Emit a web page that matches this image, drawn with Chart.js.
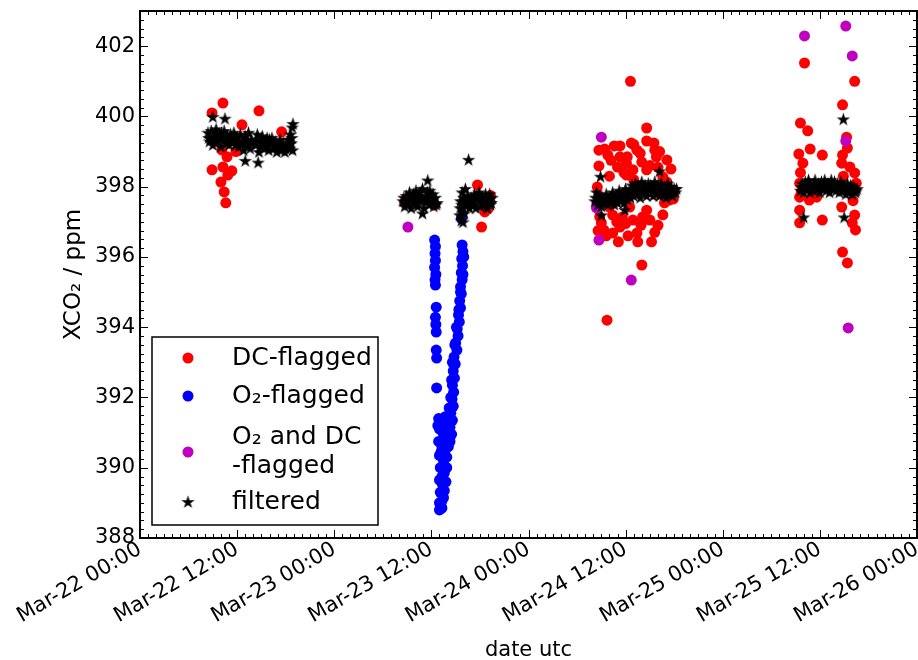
<!DOCTYPE html>
<html>
<head>
<meta charset="utf-8">
<script src="https://cdn.jsdelivr.net/npm/chart.js@4.4.1/dist/chart.umd.min.js"></script>
<style>
  html, body { margin: 0; background: #fff; }
  #wrap { width: 918px; height: 660px; }
</style>
</head>
<body>
<div id="wrap"><canvas id="c" width="918" height="660"></canvas></div>
<script>
'use strict';
// x values are hours since Mar-22 00:00 UTC
const xTickHours  = [0, 12, 24, 36, 48, 60, 72, 84, 96];
const xTickLabels = ['Mar-22 00:00','Mar-22 12:00','Mar-23 00:00','Mar-23 12:00','Mar-24 00:00','Mar-24 12:00','Mar-25 00:00','Mar-25 12:00','Mar-26 00:00'];
const yTicks = [388, 390, 392, 394, 396, 398, 400, 402];

// ─── Series ([hour, xco2]) ───────────────────────────────────────────────────
const dcFlagged = [
  [8.9,400.1],[10.25,400.38],[14.7,400.16],[12.6,399.76],[17.5,399.56],[8.9,398.48],[10.25,398.56],[11.35,398.45],
  [10.85,398.33],[10.0,398.13],[10.4,397.85],[10.6,397.54],[10.75,398.85],[10.1,399.05],[9.25,399.3],[11.85,399.0],
  [32.7,397.56],[36.4,397.48],[41.7,398.05],[42.6,397.28],[43.0,397.37],[42.2,396.85],[43.3,397.75],
  [60.6,401.0],[62.6,399.67],[56.7,399.04],[57.4,399.07],[58.6,399.16],[59.3,399.16],[60.7,399.24],[62.6,399.3],
  [63.5,399.24],[61.4,399.04],[59.3,398.85],[60.2,398.85],[63.6,399.04],[63.8,398.85],[65.1,398.76],[56.7,398.59],
  [59.0,398.56],[60.1,398.67],[62.0,398.7],[60.9,398.48],[62.6,398.48],[60.1,398.33],[64.6,398.28],[56.8,397.14],
  [57.0,396.97],[58.4,397.19],[59.6,397.14],[60.9,397.05],[62.1,397.14],[63.0,397.05],[64.8,397.54],[65.4,397.62],
  [59.3,396.85],[58.4,396.68],[61.4,396.68],[61.5,396.43],[63.2,396.43],[59.1,396.43],[57.3,396.77],[62.0,395.77],
  [57.7,394.2],[56.8,397.7],[56.5,397.99],[63.8,397.82],[65.7,397.91],[65.1,398.13],[60.5,397.42],[62.6,397.33],
  [58.0,397.42],[61.0,398.2],[64.0,398.55],[58.0,398.3],[62.0,397.0],[60.0,396.95],[64.0,396.9],
  [57.8,398.9],[58.2,398.75],[61.8,398.95],[61.0,399.2],[63.0,398.6],[64.2,399.0],[65.6,398.5],[59.8,398.4],
  [57.6,396.6],[58.9,397.0],[60.3,396.6],[61.9,396.9],[63.6,396.7],[64.6,397.2],[65.9,397.65],[56.6,396.75],
  [82.1,401.52],[88.3,401.0],[86.8,400.33],[81.6,399.81],[82.5,399.59],[87.3,399.41],[87.4,399.1],[82.8,399.07],
  [84.3,398.9],[81.4,398.93],[86.8,398.9],[81.9,398.67],[86.7,398.67],[87.7,398.56],[88.3,398.39],[88.5,398.1],
  [81.5,397.7],[82.7,397.62],[83.6,397.7],[81.5,397.33],[86.7,397.42],[81.5,396.97],[84.3,397.05],[88.3,397.19],
  [88.0,396.97],[88.4,396.77],[86.8,396.14],[87.4,395.83],[81.6,398.4],[81.5,398.1],[86.9,398.3],[88.1,397.6],
  [87.6,397.9],[81.7,397.85]
];

const o2Flagged = [
  [36.4,396.48],[36.5,396.3],[36.45,396.1],[36.5,395.9],[36.4,395.7],[36.55,395.5],[36.45,395.35],[36.5,395.2],
  [36.6,394.57],[36.5,394.28],[36.55,394.08],[36.6,393.86],[36.6,393.35],[36.65,393.12],[36.65,392.27],
  [39.8,396.34],[39.9,396.15],[39.75,395.95],[39.85,395.75],[39.7,395.55],[39.8,395.35],[39.6,395.15],[39.7,394.95],
  [39.5,394.75],[39.6,394.55],[39.35,394.35],[39.45,394.15],[39.2,393.95],[39.3,393.75],[39.0,393.55],[39.15,393.35],
  [38.8,393.15],[38.95,392.95],[38.7,392.75],[38.85,392.55],[38.6,392.35],[38.75,392.15],[38.55,391.95],[38.7,391.75],
  [38.4,391.55],[38.6,391.35],[38.3,391.15],[38.5,390.95],[38.3,390.75],
  [40.0,396.0],[39.9,395.5],[39.6,395.0],[39.4,394.5],[39.1,394.0],[38.9,393.5],[38.6,393.0],[38.5,392.5],
  [38.4,392.0],[38.2,391.7],
  [36.9,391.4],[37.3,391.3],[37.7,391.45],[38.0,391.2],[37.0,391.1],[37.5,390.95],[37.9,390.85],[36.9,390.75],
  [37.3,390.6],[37.7,390.5],[38.1,390.6],[37.0,390.35],[37.5,390.2],[37.9,390.3],[37.1,390.0],[37.6,389.85],
  [37.9,390.0],[37.0,389.65],[37.4,389.5],[37.8,389.6],[37.1,389.3],[37.5,389.15],[37.0,389.0],[37.3,388.85],
  [37.0,388.8],[38.1,391.0],[39.7,397.1],
  [36.8,391.2],[38.2,391.35],[37.6,391.2],[38.3,390.9],[37.8,390.7],[37.2,390.45],[37.6,390.05],[37.3,389.75],
  [37.6,389.35],[37.3,389.05],[37.2,388.9]
];

const bothFlagged = [
  [33.1,396.85],
  [57.0,399.41],[56.7,396.48],[60.7,395.34],[56.4,397.4],
  [87.2,402.57],[82.1,402.29],[88.0,401.72],[87.2,399.3],[87.5,393.98]
];

const filtered = [
  [8.4,399.55],[8.6,399.3],[8.8,399.6],[9.0,399.2],[9.2,399.45],[9.4,399.65],[9.6,399.3],[9.8,399.5],[10.0,399.15],
  [10.2,399.4],[10.4,399.6],[10.6,399.25],[10.8,399.45],[11.0,399.2],[11.2,399.5],[11.4,399.3],[11.6,399.55],
  [11.8,399.2],[12.0,399.4],[12.2,399.15],[12.4,399.5],[12.6,399.3],[12.8,399.05],[13.0,399.45],[13.2,399.2],
  [13.4,399.55],[13.6,399.1],[13.8,399.35],[14.3,399.2],[14.5,399.5],[14.7,399.0],[14.9,399.3],[15.1,399.45],
  [15.3,399.1],[15.5,399.3],[15.7,399.4],[15.9,399.05],[16.1,399.25],[16.3,399.4],[16.5,399.1],[16.7,399.3],
  [16.9,399.0],[17.1,399.2],[17.3,399.35],[17.5,399.05],[17.7,399.25],[17.9,399.0],[18.1,399.2],[18.3,399.35],
  [18.5,399.1],[18.6,399.5],[18.7,399.25],[18.8,399.7],[18.85,399.05],
  [8.5,399.4],[8.9,399.35],[9.3,399.55],[9.7,399.4],[10.1,399.55],[10.5,399.35],[10.9,399.3],[11.3,399.4],
  [11.7,399.35],[12.1,399.3],[12.5,399.2],[12.9,399.3],[13.3,399.35],[13.7,399.25],[14.4,399.35],[14.8,399.15],
  [15.2,399.25],[15.6,399.15],[16.0,399.35],[16.4,399.25],[16.8,399.15],[17.2,399.1],[17.6,399.15],[18.0,399.1],
  [18.4,399.2],[18.75,399.4],
  [9.0,400.0],[10.5,399.95],[13.0,398.75],[14.6,398.7],[18.9,399.8],
  [32.5,397.6],[32.7,397.45],[32.9,397.75],[33.1,397.5],[33.3,397.85],[33.5,397.4],[33.7,397.7],[33.9,397.55],
  [34.1,397.9],[34.3,397.45],[34.5,397.75],[34.7,397.6],[34.9,397.95],[35.1,397.4],[35.3,397.7],[35.5,397.85],
  [35.7,397.5],[35.9,397.75],[36.1,397.6],[36.3,397.45],[36.5,397.7],[36.7,397.55],[35.55,398.19],[34.9,397.25],
  [32.6,397.7],[33.0,397.6],[33.4,397.65],[33.8,397.8],[34.2,397.65],[34.6,397.85],[35.0,397.65],[35.4,397.6],
  [35.8,397.9],[36.2,397.8],[36.6,397.5],
  [39.5,397.2],[39.6,397.6],[39.7,397.05],[39.8,397.85],[39.9,397.4],[40.0,397.7],[40.1,397.25],[40.2,397.95],
  [40.35,397.5],[40.5,397.75],[40.7,397.4],[40.9,397.7],[41.1,397.5],[41.3,397.8],[41.5,397.4],[41.7,397.65],
  [41.9,397.85],[42.1,397.45],[42.3,397.7],[42.5,397.55],[42.7,397.8],[42.9,397.4],[43.1,397.65],[43.3,397.5],
  [43.5,397.7],[40.6,398.78],[39.9,397.0],
  [39.55,397.4],[39.75,397.5],[39.95,397.6],[40.25,397.65],[40.8,397.6],[41.2,397.6],[41.6,397.75],[42.0,397.6],
  [42.4,397.6],[42.8,397.6],[43.2,397.8],[43.4,397.55],
  [56.2,397.6],[56.4,397.85],[56.6,397.5],[56.8,397.75],[57.0,397.45],[57.2,397.7],[57.4,397.55],[57.6,397.8],
  [57.8,397.5],[58.0,397.7],[58.2,397.6],[58.4,397.85],[58.6,397.5],[58.8,397.75],[59.0,397.55],[59.2,397.9],
  [59.4,397.6],[59.6,397.8],[59.8,397.55],[60.0,397.95],[60.2,397.65],[60.4,397.85],[60.6,397.7],[60.8,398.05],
  [61.0,397.75],[61.2,398.1],[61.4,397.8],[61.6,398.0],[61.8,397.7],[62.0,398.15],[62.2,397.85],[62.4,398.05],
  [62.6,397.75],[62.8,398.1],[63.0,397.9],[63.2,398.0],[63.4,397.75],[63.6,398.15],[63.8,397.85],[64.0,398.05],
  [64.2,397.75],[64.4,398.1],[64.6,397.9],[64.8,398.0],[65.0,397.7],[65.2,398.1],[65.4,397.85],[65.6,398.0],
  [65.8,397.75],[66.0,397.95],[66.2,397.85],
  [56.3,397.7],[56.7,397.65],[57.1,397.6],[57.5,397.65],[57.9,397.6],[58.3,397.7],[58.7,397.65],[59.1,397.7],
  [59.5,397.7],[59.9,397.75],[60.3,397.75],[60.7,397.9],[61.1,397.9],[61.5,397.95],[61.9,397.9],[62.3,397.95],
  [62.7,397.95],[63.1,398.05],[63.5,397.95],[63.9,397.95],[64.3,397.95],[64.7,397.8],[65.1,397.95],[65.5,397.95],
  [65.9,397.85],[66.3,397.95],
  [56.9,398.3],[64.2,398.45],[57.0,397.2],[59.9,397.35],
  [81.6,397.9],[81.8,398.1],[82.0,397.85],[82.2,398.15],[82.4,397.95],[82.6,398.2],[82.8,397.85],[83.0,398.05],
  [83.2,397.9],[83.4,398.2],[83.6,397.95],[83.8,398.1],[84.0,397.85],[84.2,398.15],[84.4,397.95],[84.6,398.2],
  [84.8,397.9],[85.0,398.1],[85.2,397.85],[85.4,398.2],[85.6,397.95],[85.8,398.15],[86.0,397.9],[86.2,398.1],
  [86.4,397.85],[86.6,398.15],[86.8,397.9],[87.0,398.05],[87.2,397.8],[87.4,398.1],[87.6,397.85],[87.8,398.05],
  [88.0,397.8],[88.2,398.0],[88.4,397.85],[88.6,397.95],
  [81.7,398.0],[82.1,398.0],[82.5,398.05],[82.9,397.95],[83.3,398.05],[83.7,398.05],[84.1,398.0],[84.5,398.05],
  [84.9,398.0],[85.3,398.05],[85.7,398.05],[86.1,398.0],[86.5,398.0],[86.9,398.0],[87.3,397.95],[87.7,397.95],
  [88.1,397.9],[88.5,397.9],
  [86.9,399.93],[82.0,397.14],[87.0,397.14]
];

const FONT = 'DejaVu Sans';
const pts = a => a.map(([x, y]) => ({x, y}));

// filled five-point star, like matplotlib's '*'
const starImg = (() => {
  const s = 15, c = document.createElement('canvas');
  c.width = c.height = s;
  const g = c.getContext('2d'), r = 7, ri = r * 0.382;
  g.beginPath();
  for (let i = 0; i < 10; i++) {
    const a = -Math.PI / 2 + i * Math.PI / 5, rr = i % 2 ? ri : r;
    g.lineTo(s / 2 + rr * Math.cos(a), s / 2 + 0.8 + rr * Math.sin(a));
  }
  g.closePath();
  g.fillStyle = '#000';
  g.fill();
  return c;
})();

// ─── Frame + inward ticks on all four sides ──────────────────────────────────
const frame = {
  id: 'frame',
  afterDatasetsDraw(chart) {
    const {ctx, chartArea: {left, right, top, bottom}, scales: {x, y}} = chart;
    ctx.save();
    ctx.strokeStyle = '#000';
    ctx.lineWidth = 1;
    ctx.beginPath();
    for (let h = x.min; h <= x.max; h++) {
      const px = Math.round(x.getPixelForValue(h)) + 0.5, len = h % 12 ? 4 : 8;
      ctx.moveTo(px, bottom); ctx.lineTo(px, bottom - len);
      ctx.moveTo(px, top);    ctx.lineTo(px, top + len);
    }
    for (let k = 0; k <= (y.max - y.min) * 4; k++) {
      const v = y.min + k / 4, py = Math.round(y.getPixelForValue(v)) + 0.5, len = k % 8 ? 4 : 8;
      ctx.moveTo(left, py);  ctx.lineTo(left + len, py);
      ctx.moveTo(right, py); ctx.lineTo(right - len, py);
    }
    ctx.stroke();
    ctx.lineWidth = 2;
    ctx.strokeRect(left, top, right - left, bottom - top);
    ctx.restore();
  }
};

// ─── Legend box inside the plot (lower left) ────────────────────────────────
const legendBox = {
  id: 'legendBox',
  afterDraw(chart) {
    const {ctx} = chart;
    const x0 = 152, y0 = 337, w = 226, h = 188;
    ctx.save();
    ctx.fillStyle = '#fff';
    ctx.fillRect(x0, y0, w, h);
    ctx.strokeStyle = '#000';
    ctx.lineWidth = 1.5;
    ctx.strokeRect(x0, y0, w, h);
    ctx.font = '25px "' + FONT + '"';
    ctx.textBaseline = 'middle';
    ctx.fillStyle = '#000';
    const rows = [358, 396, 452, 502];
    chart.data.datasets.forEach((ds, i) => {
      const cy = rows[i];
      if (ds.pointStyle === 'circle') {
        ctx.beginPath();
        ctx.arc(188, cy, 5.5, 0, Math.PI * 2);
        ctx.fillStyle = ds.backgroundColor;
        ctx.fill();
      } else {
        ctx.drawImage(ds.pointStyle, 188 - 7.5, cy - 8);
      }
      ctx.fillStyle = '#000';
      const lines = ds.label.split('\n');
      lines.forEach((t, j) => ctx.fillText(t, 232, cy + (j - (lines.length - 1) / 2) * 29));
    });
    ctx.restore();
  }
};

const mk = (label, data, color, order, style) => ({
  label, data: pts(data), order,
  backgroundColor: color, borderColor: color, borderWidth: 0,
  pointStyle: style || 'circle', pointRadius: 5.5, pointHoverRadius: 5.5
});

new Chart(document.getElementById('c').getContext('2d'), {
  type: 'scatter',
  data: {
    datasets: [
      mk('DC-flagged', dcFlagged, '#ff0000', 4),
      mk('O₂-flagged', o2Flagged, '#0000ff', 3),
      mk('O₂ and DC\n-flagged', bothFlagged, '#bf00bf', 2),
      mk('filtered', filtered, '#000000', 1, starImg)
    ]
  },
  options: {
    responsive: false,
    animation: false,
    layout: {autoPadding: false, padding: {top: 11, right: 1, left: 0, bottom: 0}},
    plugins: {legend: {display: false}, tooltip: {enabled: false}},
    scales: {
      x: {
        type: 'linear', min: 0, max: 96,
        grid: {display: false, drawTicks: false},
        border: {display: false},
        afterBuildTicks: s => { s.ticks = xTickHours.map(v => ({value: v})); },
        afterFit: s => { s.height = 122; s.paddingLeft = 0; s.paddingRight = 0; },
        ticks: {
          autoSkip: false, minRotation: 30, maxRotation: 30, padding: -1,
          color: '#000', font: {family: FONT, size: 21},
          callback: v => xTickLabels[xTickHours.indexOf(v)]
        },
        title: {display: true, text: 'date utc', color: '#000', font: {family: FONT, size: 21}, padding: {top: 0, bottom: -3}}
      },
      y: {
        type: 'linear', min: 388, max: 403,
        grid: {display: false, drawTicks: false},
        border: {display: false},
        afterBuildTicks: s => { s.ticks = yTicks.map(v => ({value: v})); },
        afterFit: s => { s.width = 140; s.paddingTop = 0; s.paddingBottom = 0; },
        ticks: {padding: 5, color: '#000', font: {family: FONT, size: 21}},
        title: {display: true, text: 'XCO₂ / ppm', color: '#000', font: {family: FONT, size: 23}, padding: {top: 60, bottom: 0}}
      }
    }
  },
  plugins: [frame, legendBox]
});
</script>
</body>
</html>
